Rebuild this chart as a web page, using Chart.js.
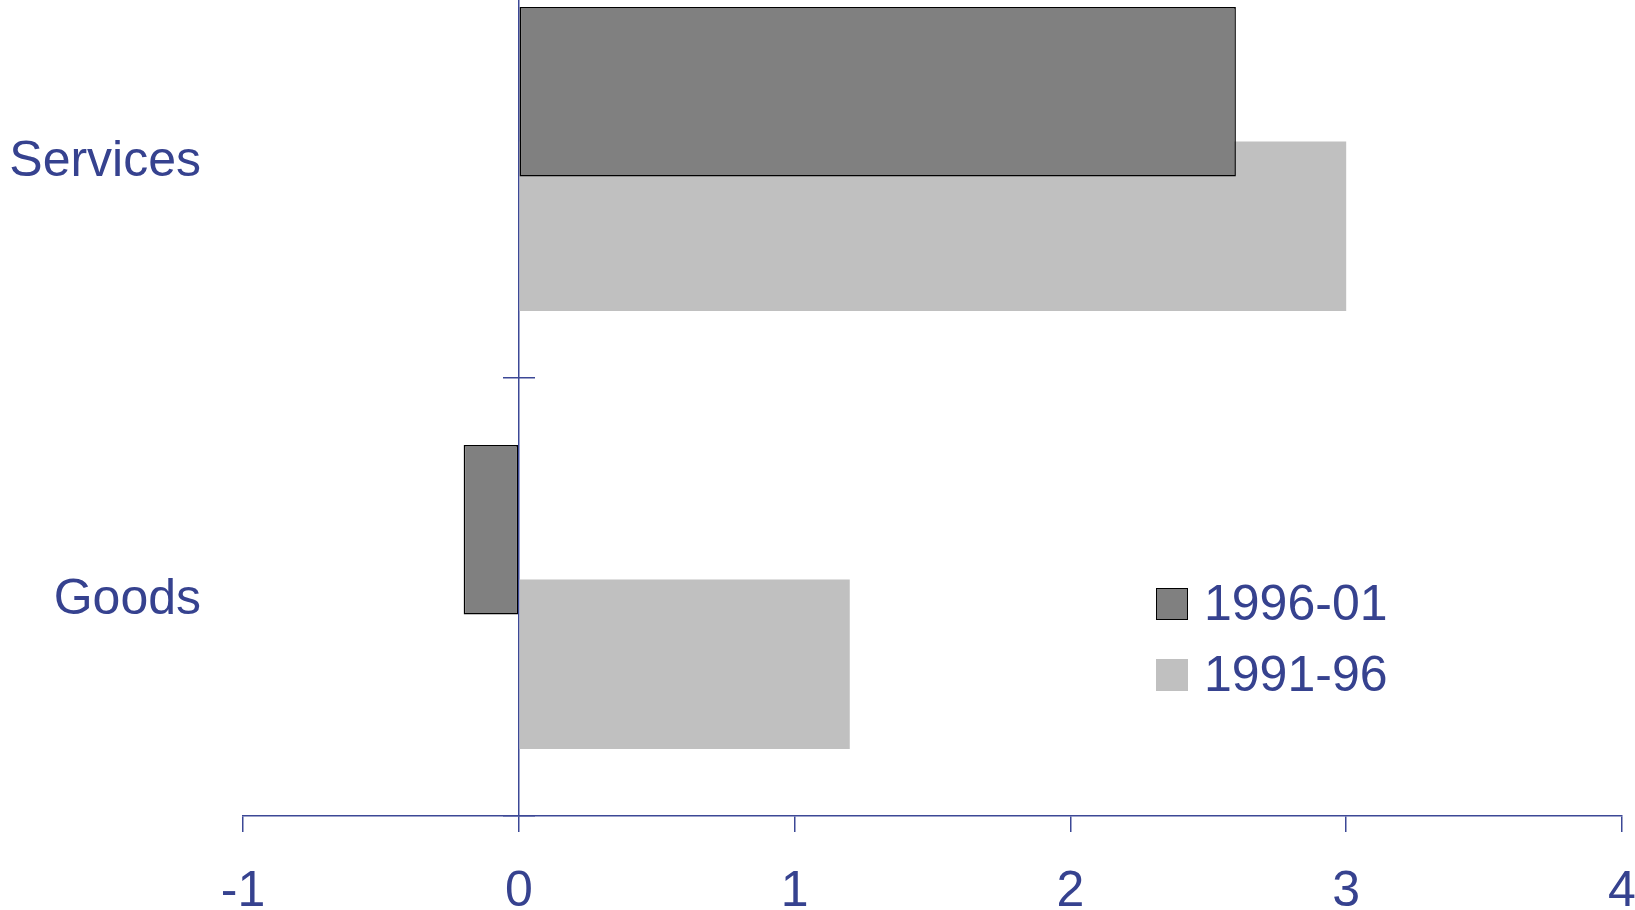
<!DOCTYPE html>
<html>
<head>
<meta charset="utf-8">
<script src="https://cdn.jsdelivr.net/npm/chart.js@4.4.1/dist/chart.umd.min.js"></script>
<style>
    html, body { margin: 0; padding: 0; background: #fff; overflow: hidden; width: 1635px; height: 910px; }
    #wrap { position: relative; width: 1635px; height: 910px; overflow: hidden; }
    #chart { position: absolute; left: 0; top: -60px; }
    #legend { position: absolute; left: 1156px; top: 568px; font-family: "Liberation Sans", Arial, sans-serif; font-size: 50px; color: #36428f; }
    .row { display: flex; align-items: center; height: 71px; line-height: 71px; }
    .swatch { width: 32px; height: 32px; box-sizing: border-box; margin-right: 16px; }
</style>
</head>
<body>
<div id="wrap">
    <canvas id="chart" width="1635" height="1000"></canvas>
    <div id="legend"></div>
</div>
<script>
// data
const categories = ['Services', 'Goods'];
const period1996 = [2.6, -0.2];
const period1991 = [3.0, 1.2];
const seriesNames = ['1996-01', '1991-96'];
const xTicks = [-1, 0, 1, 2, 3, 4];

const blue = '#36428f';
const lineBlue = '#3c4896';
const darkGrey = '#808080';
const lightGrey = '#c0c0c0';

Chart.defaults.font.family = '"Liberation Sans", Arial, sans-serif';
Chart.defaults.color = blue;

const datasets = [
    {
        label: seriesNames[0],
        data: period1996,
        backgroundColor: darkGrey,
        borderColor: '#000',
        borderWidth: 1.5,
        borderSkipped: false,
        categoryPercentage: 0.614,
        barPercentage: 1.26,
        yAxisID: 'y'
    },
    {
        label: seriesNames[1],
        data: period1991,
        backgroundColor: lightGrey,
        borderWidth: 0,
        categoryPercentage: 0.614,
        barPercentage: 1.26,
        yAxisID: 'y'
    }
];

const config = {
    type: 'bar',
    data: { labels: categories, datasets: datasets },
    options: {
        indexAxis: 'y',
        responsive: false,
        animation: false,
        events: [],
        layout: { padding: { left: 0, right: 13, top: 0, bottom: 0 } },
        plugins: {
            legend: { display: false },
            tooltip: { enabled: false }
        },
        scales: {
            x: {
                type: 'linear',
                position: 'bottom',
                min: xTicks[0],
                max: xTicks[xTicks.length - 1],
                afterBuildTicks: s => { s.ticks = xTicks.map(v => ({ value: v })); },
                afterFit: s => { s.height = 124; s.paddingLeft = 0; s.paddingRight = 0; },
                border: { color: lineBlue, width: 1.5 },
                grid: { drawOnChartArea: false, tickLength: 16, color: lineBlue, lineWidth: 1.5 },
                ticks: { padding: 30, font: { size: 50 }, color: blue }
            },
            y: {
                type: 'category',
                position: 'left',
                offset: true,
                afterFit: s => { s.width = 243; s.paddingTop = 0; s.paddingBottom = 0; },
                border: { display: false },
                grid: { display: false, drawTicks: false },
                ticks: { padding: 42, labelOffset: 3, font: { size: 50 }, color: blue }
            },
            // zero line with boundary ticks on both sides
            y0: {
                type: 'category',
                position: { x: 0 },
                offset: true,
                border: { color: lineBlue, width: 1.5 },
                grid: { offset: true, drawOnChartArea: false, tickLength: 15, color: lineBlue, lineWidth: 1.5 },
                ticks: { display: false }
            },
            y1: {
                type: 'category',
                position: { x: 0 },
                offset: true,
                border: { display: false },
                grid: { offset: true, drawOnChartArea: false, tickLength: -16, color: lineBlue, lineWidth: 1.5 },
                ticks: { display: false }
            }
        }
    }
};

const chart = new Chart(document.getElementById('chart'), config);

// legend built from the datasets
const legend = document.getElementById('legend');
chart.data.datasets.forEach(ds => {
    const row = document.createElement('div');
    row.className = 'row';
    const sw = document.createElement('div');
    sw.className = 'swatch';
    sw.style.background = ds.backgroundColor;
    if (ds.borderWidth) sw.style.border = '1.5px solid ' + ds.borderColor;
    const txt = document.createElement('span');
    txt.textContent = ds.label;
    row.appendChild(sw);
    row.appendChild(txt);
    legend.appendChild(row);
});
</script>
</body>
</html>
